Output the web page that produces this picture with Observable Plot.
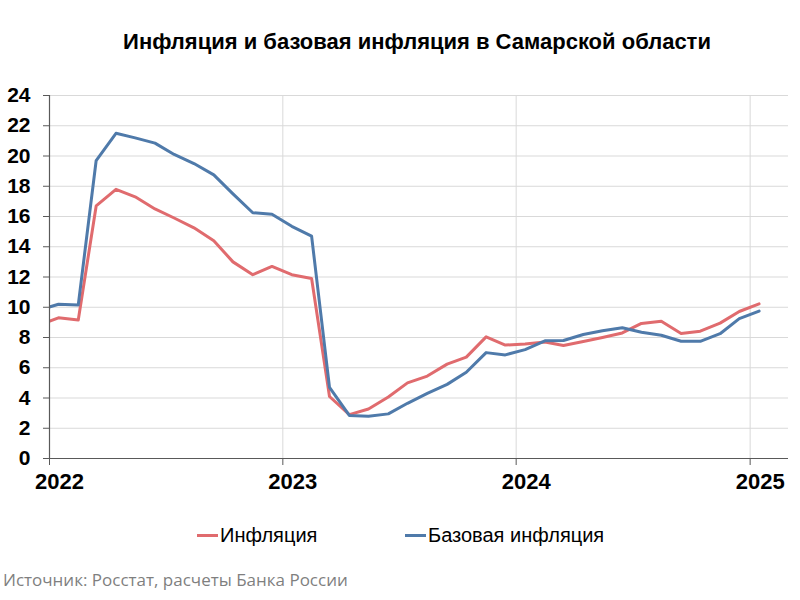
<!DOCTYPE html>
<html><head><meta charset="utf-8">
<script src="https://cdn.jsdelivr.net/npm/d3@7"></script>
<script src="https://cdn.jsdelivr.net/npm/@observablehq/plot@0.6"></script>
<style>
body{margin:0;background:#fff;width:800px;height:600px;overflow:hidden;position:relative;font-family:"Liberation Sans",Arial,sans-serif;}
#title{position:absolute;left:0;top:29px;width:834px;text-align:center;font-weight:bold;font-size:22px;color:#000;}
#chart{position:absolute;left:0;top:70px;}
#legend{position:absolute;top:523px;left:0;width:800px;height:24px;font-size:20px;color:#000;}
.item{position:absolute;top:0;display:flex;align-items:center;height:24px;}
.sw{width:21px;height:3px;margin-right:2px;}
#source{position:absolute;left:3px;top:568px;font-family:"Open Sans",sans-serif;font-size:17px;color:#7f7f7f;}
</style>
</head><body>
<div id="title">Инфляция и базовая инфляция в Самарской области</div>
<div id="chart"></div>
<div id="legend"></div>
<div id="source">Источник: Росстат, расчеты Банка России</div>
<script>
const months = ["2021-12","2022-01","2022-02","2022-03","2022-04","2022-05","2022-06","2022-07","2022-08","2022-09","2022-10","2022-11","2022-12",
"2023-01","2023-02","2023-03","2023-04","2023-05","2023-06","2023-07","2023-08","2023-09","2023-10","2023-11","2023-12",
"2024-01","2024-02","2024-03","2024-04","2024-05","2024-06","2024-07","2024-08","2024-09","2024-10","2024-11","2024-12","2025-01"];
const inflation = [8.8,9.3,9.16,16.7,17.8,17.3,16.5,15.9,15.25,14.4,13.0,12.15,12.7,12.15,11.9,4.1,2.9,3.27,4.07,5.0,5.45,6.24,6.7,8.04,7.5,7.57,7.7,7.47,7.73,8.0,8.3,8.93,9.07,8.27,8.42,8.95,9.72,10.22];
const coreInflation = [9.8,10.2,10.15,19.7,21.5,21.2,20.85,20.1,19.5,18.75,17.5,16.25,16.15,15.35,14.7,4.7,2.85,2.8,2.95,3.65,4.3,4.9,5.7,7.0,6.85,7.2,7.78,7.8,8.2,8.45,8.65,8.35,8.15,7.75,7.75,8.25,9.25,9.75];
const seriesNames = ["Инфляция","Базовая инфляция"];
const seriesColors = ["#E06B6E","#4F7AAA"];
const yearLabels = ["2022","2023","2024","2025"];
const yTicks = [0,2,4,6,8,10,12,14,16,18,20,22,24];

const toDate = m => new Date(m + "-15T00:00:00Z");
const data = [];
months.forEach((m,i)=>{
  data.push({date: toDate(m), value: inflation[i], series: seriesNames[0]});
});
months.forEach((m,i)=>{
  data.push({date: toDate(m), value: coreInflation[i], series: seriesNames[1]});
});
const yearDates = yearLabels.map(y => new Date(y + "-01-01T00:00:00Z"));
const xDomain = [new Date("2022-01-01T00:00:00Z"), new Date("2025-03-02T00:00:00Z")];

const chart = Plot.plot({
  width: 800, height: 430,
  marginTop: 25, marginBottom: 42, marginLeft: 49, marginRight: 12,
  style: {fontFamily: "Liberation Sans, Arial, sans-serif", background: "white", color: "#000"},
  x: {type: "utc", domain: xDomain},
  y: {domain: [0, 24]},
  color: {domain: seriesNames, range: seriesColors},
  marks: [
    Plot.gridY(yTicks, {stroke: "#d9d9d9", strokeOpacity: 1, strokeWidth: 1}),
    Plot.gridX(yearDates, {stroke: "#d9d9d9", strokeOpacity: 1, strokeWidth: 1}),
    Plot.line(data, {x: "date", y: "value", stroke: "series", z: "series", strokeWidth: 3, clip: true}),
    Plot.axisY(yTicks, {tickSize: 6, tickPadding: 13, fontSize: 21, fontWeight: "bold", stroke: "#595959", fill: "#000", label: null}),
    Plot.axisX(yearDates, {tickSize: 7, stroke: "#595959", label: null, tickFormat: () => ""}),
    Plot.axisX(yearDates, {tickSize: 0, tickPadding: 15, dx: 10, fontSize: 22, fontWeight: "bold", fill: "#000", label: null, tickFormat: d => String(d.getUTCFullYear())}),
    Plot.ruleY([0], {stroke: "#595959", strokeWidth: 1.2}),
    Plot.ruleX([xDomain[0]], {stroke: "#595959", strokeWidth: 1.2})
  ]
});
document.getElementById("chart").appendChild(chart);

const legend = document.getElementById("legend");
const lx = [197, 405];
seriesNames.forEach((n,i)=>{
  const it = document.createElement("div");
  it.className = "item";
  it.style.left = lx[i] + "px";
  const sw = document.createElement("div");
  sw.className = "sw";
  sw.style.background = seriesColors[i];
  const t = document.createElement("span");
  t.textContent = n;
  it.appendChild(sw); it.appendChild(t);
  legend.appendChild(it);
});
</script>
</body></html>
